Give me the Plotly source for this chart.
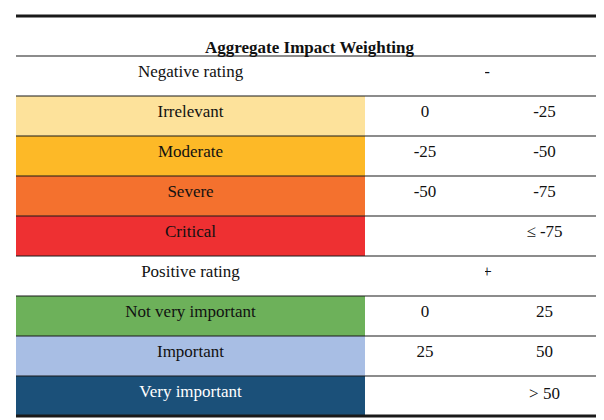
import plotly.graph_objects as go

title = "Aggregate Impact Weighting"
labels = ["Negative rating", "Irrelevant", "Moderate", "Severe", "Critical",
          "Positive rating", "Not very important", "Important", "Very important"]
lower = ["", "0", "-25", "-50", "", "", "0", "25", ""]
upper = ["-", "-25", "-50", "-75", "≤ -75", "+", "25", "50", "> 50"]
label_colors = ["white", "#FDE29B", "#FDB927", "#F4712E", "#EE3032",
                "white", "#6DB15A", "#A8BEE4", "#1B5079"]
label_font_colors = ["#111"] * 8 + ["white"]

W, H = 604, 420
left, right, top = 8, 596, 8
row_h = 40
n_rows = len(labels) + 1
bottom = top + row_h * n_rows

# sign-only rows sit between the two value columns; shift them left with nbsp
upper_text = [v + "\u00a0" * 27 if v in ("-", "+") else v for v in upper]

fig = go.Figure(go.Table(
    domain=dict(x=[left / W, right / W], y=[1 - (bottom + 2) / H, 1 - top / H]),
    columnwidth=[349, 120, 119],
    header=dict(values=["", "", ""], height=row_h, fill_color="white",
                line=dict(width=0, color="white")),
    cells=dict(
        values=[labels, lower, upper_text],
        height=row_h,
        fill_color=[label_colors, ["white"] * 9, ["white"] * 9],
        line=dict(width=0, color="white"),
        align="center",
        font=dict(family="Liberation Serif", size=17,
                  color=[label_font_colors, ["#111"] * 9, ["#111"] * 9]),
    ),
))

for k in range(n_rows + 1):
    y = top + row_h * k
    fig.add_shape(type="line", xref="paper", yref="paper",
                  x0=left / W, x1=right / W, y0=1 - y / H, y1=1 - y / H,
                  line=dict(color="#1a1a1a", width=3 if k in (0, n_rows) else 1.2))

fig.add_annotation(text="<b>" + title + "</b>", xref="paper", yref="paper",
                   x=(left + right) / 2 / W, y=1 - (top + row_h / 2) / H,
                   showarrow=False, font=dict(family="Liberation Serif", size=17, color="#111"))

fig.update_layout(width=W, height=H, margin=dict(l=0, r=0, t=0, b=0),
                  paper_bgcolor="white")
fig.write_html("out.html")
